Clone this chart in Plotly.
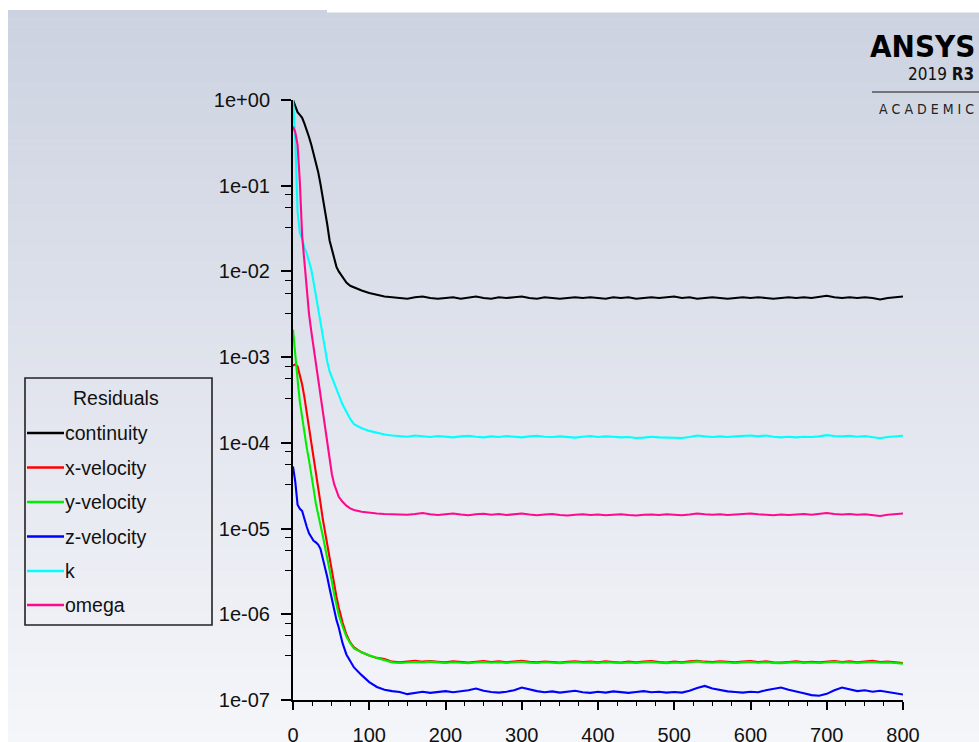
import plotly.graph_objects as go

# ---------------- data ----------------
iterations = [0, 3, 6, 9, 12, 15, 18, 21, 24, 27, 30, 33, 36, 39, 42, 45, 48, 51, 54, 57,
              60, 65, 70, 75, 80, 90, 100, 110, 120, 130, 140] + list(range(150, 801, 10))

continuity = [1.0, 0.85, 0.72, 0.67, 0.62, 0.53, 0.45, 0.37, 0.30, 0.24, 0.19, 0.145, 0.105, 0.075,
              0.052, 0.035, 0.023, 0.018, 0.0145, 0.0113, 0.0100, 0.0085, 0.0074, 0.0068, 0.0065,
              0.0060, 0.0056, 0.0053, 0.0051, 0.0050, 0.0049,
              0.0048, 0.0050, 0.0051, 0.0049, 0.0048, 0.0049, 0.0050, 0.0048, 0.0049, 0.0051,
              0.0049, 0.0048, 0.0050, 0.0049, 0.0050, 0.0051, 0.0049, 0.0048, 0.0050, 0.0049,
              0.0048, 0.0049, 0.0050, 0.0049, 0.0050, 0.0049, 0.0048, 0.0050, 0.0049, 0.0050,
              0.0048, 0.0049, 0.0050, 0.0049, 0.0050, 0.0051, 0.0049, 0.0050, 0.0048, 0.0049,
              0.0050, 0.0049, 0.0048, 0.0049, 0.0050, 0.0049, 0.0050, 0.0049, 0.0048, 0.0049,
              0.0050, 0.0049, 0.0050, 0.0049, 0.0050, 0.0052, 0.0050, 0.0049, 0.0050, 0.0049,
              0.0050, 0.0049, 0.0047, 0.0049, 0.0050, 0.0051]

x_velocity = [8.0e-4, 8.2e-4, 7.8e-4, 6.3e-4, 4.8e-4, 3.4e-4, 2.3e-4, 1.5e-4, 1.05e-4, 7.0e-5,
              4.6e-5, 3.0e-5, 2.0e-5, 1.3e-5, 9.0e-6, 6.2e-6, 4.4e-6, 3.1e-6, 2.2e-6, 1.6e-6,
              1.2e-6, 8.0e-7, 5.8e-7, 4.7e-7, 4.1e-7, 3.6e-7, 3.3e-7, 3.1e-7, 3.0e-7, 2.8e-7, 2.75e-7,
              2.78e-7, 2.86e-7, 2.80e-7, 2.84e-7, 2.79e-7, 2.75e-7, 2.82e-7, 2.77e-7, 2.74e-7, 2.80e-7,
              2.85e-7, 2.78e-7, 2.82e-7, 2.76e-7, 2.81e-7, 2.86e-7, 2.79e-7, 2.75e-7, 2.81e-7, 2.77e-7,
              2.74e-7, 2.79e-7, 2.83e-7, 2.77e-7, 2.80e-7, 2.76e-7, 2.82e-7, 2.78e-7, 2.74e-7, 2.80e-7,
              2.76e-7, 2.81e-7, 2.85e-7, 2.78e-7, 2.74e-7, 2.80e-7, 2.76e-7, 2.82e-7, 2.86e-7, 2.80e-7,
              2.77e-7, 2.83e-7, 2.78e-7, 2.75e-7, 2.80e-7, 2.84e-7, 2.77e-7, 2.82e-7, 2.76e-7, 2.73e-7,
              2.78e-7, 2.82e-7, 2.76e-7, 2.79e-7, 2.75e-7, 2.80e-7, 2.85e-7, 2.78e-7, 2.82e-7, 2.76e-7,
              2.79e-7, 2.87e-7, 2.78e-7, 2.81e-7, 2.75e-7, 2.70e-7]

y_velocity = [2.1e-3, 1.0e-3, 5.5e-4, 3.0e-4, 1.9e-4, 1.25e-4, 8.8e-5, 6.3e-5, 4.5e-5, 2.9e-5,
              1.95e-5, 1.4e-5, 1.1e-5, 8.3e-6, 6.2e-6, 4.6e-6, 3.4e-6, 2.4e-6, 1.7e-6, 1.25e-6,
              9.8e-7, 7.2e-7, 5.5e-7, 4.6e-7, 4.0e-7, 3.6e-7, 3.3e-7, 3.1e-7, 2.9e-7, 2.75e-7, 2.7e-7,
              2.72e-7, 2.78e-7, 2.74e-7, 2.80e-7, 2.75e-7, 2.70e-7, 2.76e-7, 2.72e-7, 2.68e-7, 2.74e-7,
              2.78e-7, 2.72e-7, 2.76e-7, 2.71e-7, 2.75e-7, 2.79e-7, 2.73e-7, 2.70e-7, 2.76e-7, 2.72e-7,
              2.69e-7, 2.74e-7, 2.77e-7, 2.72e-7, 2.75e-7, 2.71e-7, 2.76e-7, 2.73e-7, 2.70e-7, 2.74e-7,
              2.71e-7, 2.75e-7, 2.78e-7, 2.72e-7, 2.69e-7, 2.74e-7, 2.71e-7, 2.76e-7, 2.82e-7, 2.76e-7,
              2.72e-7, 2.77e-7, 2.73e-7, 2.70e-7, 2.75e-7, 2.78e-7, 2.72e-7, 2.76e-7, 2.71e-7, 2.68e-7,
              2.73e-7, 2.76e-7, 2.71e-7, 2.74e-7, 2.70e-7, 2.75e-7, 2.79e-7, 2.73e-7, 2.76e-7, 2.71e-7,
              2.74e-7, 2.78e-7, 2.72e-7, 2.75e-7, 2.70e-7, 2.66e-7]

z_velocity = [5.3e-5, 3.5e-5, 1.9e-5, 1.7e-5, 1.6e-5, 1.25e-5, 1.05e-5, 8.8e-6, 7.8e-6, 7.2e-6,
              6.9e-6, 6.5e-6, 5.8e-6, 4.6e-6, 3.6e-6, 2.7e-6, 2.0e-6, 1.5e-6, 1.1e-6, 8.6e-7,
              7.0e-7, 4.6e-7, 3.4e-7, 2.8e-7, 2.4e-7, 1.95e-7, 1.62e-7, 1.42e-7, 1.32e-7, 1.27e-7, 1.24e-7,
              1.17e-7, 1.22e-7, 1.25e-7, 1.21e-7, 1.24e-7, 1.27e-7, 1.23e-7, 1.26e-7, 1.30e-7, 1.36e-7,
              1.28e-7, 1.24e-7, 1.22e-7, 1.25e-7, 1.30e-7, 1.40e-7, 1.33e-7, 1.27e-7, 1.23e-7, 1.26e-7,
              1.22e-7, 1.24e-7, 1.28e-7, 1.23e-7, 1.21e-7, 1.25e-7, 1.22e-7, 1.26e-7, 1.24e-7, 1.21e-7,
              1.24e-7, 1.27e-7, 1.23e-7, 1.25e-7, 1.22e-7, 1.24e-7, 1.22e-7, 1.28e-7, 1.38e-7, 1.46e-7,
              1.36e-7, 1.30e-7, 1.26e-7, 1.24e-7, 1.22e-7, 1.25e-7, 1.23e-7, 1.30e-7, 1.36e-7, 1.40e-7,
              1.32e-7, 1.27e-7, 1.20e-7, 1.14e-7, 1.12e-7, 1.18e-7, 1.30e-7, 1.40e-7, 1.32e-7, 1.27e-7,
              1.30e-7, 1.25e-7, 1.28e-7, 1.24e-7, 1.22e-7, 1.16e-7]

k = [1.0, 0.35, 0.05, 0.028, 0.024, 0.019, 0.0163, 0.013, 0.0105, 0.0075, 0.0053, 0.0037, 0.0026,
     0.0018, 0.0012, 8.8e-4, 6.8e-4, 5.8e-4, 5.0e-4, 4.2e-4, 3.6e-4, 2.8e-4, 2.3e-4, 1.9e-4, 1.65e-4,
     1.48e-4, 1.38e-4, 1.30e-4, 1.25e-4, 1.22e-4, 1.20e-4,
     1.18e-4, 1.22e-4, 1.20e-4, 1.17e-4, 1.20e-4, 1.18e-4, 1.16e-4, 1.19e-4, 1.21e-4, 1.18e-4,
     1.16e-4, 1.19e-4, 1.17e-4, 1.20e-4, 1.18e-4, 1.16e-4, 1.19e-4, 1.21e-4, 1.18e-4, 1.17e-4,
     1.19e-4, 1.16e-4, 1.15e-4, 1.18e-4, 1.20e-4, 1.17e-4, 1.19e-4, 1.18e-4, 1.16e-4, 1.17e-4,
     1.14e-4, 1.15e-4, 1.18e-4, 1.16e-4, 1.15e-4, 1.16e-4, 1.14e-4, 1.17e-4, 1.22e-4, 1.19e-4,
     1.17e-4, 1.19e-4, 1.17e-4, 1.19e-4, 1.21e-4, 1.22e-4, 1.19e-4, 1.22e-4, 1.18e-4, 1.16e-4,
     1.18e-4, 1.16e-4, 1.18e-4, 1.17e-4, 1.19e-4, 1.23e-4, 1.20e-4, 1.19e-4, 1.21e-4, 1.18e-4,
     1.20e-4, 1.17e-4, 1.13e-4, 1.17e-4, 1.18e-4, 1.21e-4]

omega = [0.49, 0.42, 0.30, 0.11, 0.026, 0.012, 0.0055, 0.0032, 0.0020, 0.0013, 8.5e-4, 5.5e-4,
         3.5e-4, 2.2e-4, 1.4e-4, 9.0e-5, 6.2e-5, 4.3e-5, 3.3e-5, 2.7e-5, 2.35e-5, 2.05e-5, 1.85e-5,
         1.72e-5, 1.65e-5, 1.57e-5, 1.52e-5, 1.50e-5, 1.48e-5, 1.47e-5, 1.46e-5,
         1.45e-5, 1.48e-5, 1.52e-5, 1.47e-5, 1.44e-5, 1.47e-5, 1.50e-5, 1.46e-5, 1.43e-5, 1.47e-5,
         1.49e-5, 1.45e-5, 1.48e-5, 1.44e-5, 1.47e-5, 1.50e-5, 1.46e-5, 1.43e-5, 1.46e-5, 1.48e-5,
         1.44e-5, 1.42e-5, 1.45e-5, 1.47e-5, 1.44e-5, 1.46e-5, 1.43e-5, 1.45e-5, 1.47e-5, 1.44e-5,
         1.42e-5, 1.45e-5, 1.46e-5, 1.44e-5, 1.47e-5, 1.45e-5, 1.43e-5, 1.46e-5, 1.50e-5, 1.47e-5,
         1.45e-5, 1.47e-5, 1.44e-5, 1.46e-5, 1.48e-5, 1.50e-5, 1.47e-5, 1.45e-5, 1.43e-5, 1.46e-5,
         1.44e-5, 1.46e-5, 1.48e-5, 1.45e-5, 1.47e-5, 1.52e-5, 1.48e-5, 1.46e-5, 1.48e-5, 1.45e-5,
         1.47e-5, 1.44e-5, 1.40e-5, 1.45e-5, 1.47e-5, 1.50e-5]

series_names = ["continuity", "x-velocity", "y-velocity", "z-velocity", "k", "omega"]
series_values = [continuity, x_velocity, y_velocity, z_velocity, k, omega]
series_colors = ["#000000", "#ff0000", "#00ee00", "#0000ff", "#00ffff", "#ff0a8c"]

x_tick_vals = [0, 100, 200, 300, 400, 500, 600, 700, 800]
y_tick_vals = [1e-7, 1e-6, 1e-5, 1e-4, 1e-3, 1e-2, 1e-1, 1e0]
y_tick_text = ["1e-07", "1e-06", "1e-05", "1e-04", "1e-03", "1e-02", "1e-01", "1e+00"]
y_minor_factors = [0.785, 0.56, 0.327]

# ---------------- layout geometry (pixels) ----------------
W, H = 979, 742
L, R, T, B = 293, 903, 100, 700
PW, PH = R - L, B - T


def px(x):
    return (x - L) / PW


def py(y):
    return (B - y) / PH


FONT = "Liberation Sans, Arial, sans-serif"

fig = go.Figure()
for name, vals, col in zip(series_names, series_values, series_colors):
    fig.add_trace(go.Scatter(x=iterations, y=vals, mode="lines", name=name,
                             line=dict(color=col, width=2.1), showlegend=False))

shapes = []
# gradient background
top_c = (204, 210, 224)
bot_c = (245, 246, 250)
y0, y1 = 10, 742
nb = 90
for i in range(nb):
    a = y0 + (y1 - y0) * i / nb
    b = y0 + (y1 - y0) * (i + 1) / nb
    t = (i + 0.5) / nb
    c = tuple(round(top_c[j] + (bot_c[j] - top_c[j]) * t) for j in range(3))
    shapes.append(dict(type="rect", xref="paper", yref="paper", layer="below",
                       x0=px(8), x1=px(W + 2), y0=py(a), y1=py(b + 0.6),
                       fillcolor="rgb(%d,%d,%d)" % c, line=dict(width=0)))
shapes.append(dict(type="rect", xref="paper", yref="paper", layer="below",
                   x0=px(327), x1=px(W + 2), y0=py(9), y1=py(12.5),
                   fillcolor="white", line=dict(width=0)))

# legend box
shapes.append(dict(type="rect", xref="paper", yref="paper",
                   x0=px(25), x1=px(212), y0=py(378), y1=py(625),
                   line=dict(color="#222222", width=1.6), fillcolor="rgba(0,0,0,0)"))
row_y = [433, 467.5, 502, 536.5, 571, 605]
annotations = [dict(text="Residuals", xref="paper", yref="paper", x=px(116), y=py(398),
                    xanchor="center", yanchor="middle", showarrow=False,
                    font=dict(family=FONT, size=19.5, color="#111111"))]
for name, col, ry in zip(series_names, series_colors, row_y):
    shapes.append(dict(type="line", xref="paper", yref="paper",
                       x0=px(27), x1=px(64), y0=py(ry), y1=py(ry),
                       line=dict(color=col, width=2.5)))
    annotations.append(dict(text=name, xref="paper", yref="paper", x=px(63), y=py(ry),
                            xanchor="left", yanchor="middle", showarrow=False,
                            font=dict(family=FONT, size=19.5, color="#111111")))

# ANSYS logo
NARROW = "Liberation Sans Narrow, DejaVu Sans Condensed, Liberation Sans, sans-serif"
annotations.append(dict(text="<b>ANSYS</b>", xref="paper", yref="paper", x=px(977), y=py(46),
                        xanchor="right", yanchor="middle", showarrow=False,
                        font=dict(family=NARROW, size=31, color="#000000")))
annotations.append(dict(text="2019 <b>R3</b>", xref="paper", yref="paper", x=px(976), y=py(74),
                        xanchor="right", yanchor="middle", showarrow=False,
                        font=dict(family=NARROW, size=17, color="#111111")))
shapes.append(dict(type="line", xref="paper", yref="paper", x0=px(872), x1=px(979),
                   y0=py(92), y1=py(92), line=dict(color="#555555", width=1.5)))
annotations.append(dict(text="A C A D E M I C", xref="paper", yref="paper", x=px(976), y=py(109),
                        xanchor="right", yanchor="middle", showarrow=False,
                        font=dict(family=NARROW, size=14, color="#222222")))

y_minor = [10 ** d * f for d in range(-7, 0) for f in y_minor_factors]

fig.update_layout(
    width=W, height=H,
    margin=dict(l=L, r=W - R, t=T, b=H - B, pad=0),
    paper_bgcolor="white", plot_bgcolor="rgba(0,0,0,0)",
    template="none",
    font=dict(family=FONT, size=20, color="#111111"),
    shapes=shapes, annotations=annotations,
    showlegend=False,
    xaxis=dict(range=[0, 800], showgrid=False, zeroline=False, showline=True,
               linecolor="#000000", linewidth=2, ticks="outside", ticklen=8, tickwidth=1.6,
               tickcolor="#000000", tickmode="array", tickvals=x_tick_vals,
               tickfont=dict(family=FONT, size=20, color="#111111"), ticklabelstandoff=8,
               minor=dict(ticks="outside", dtick=25, tick0=0, ticklen=4, tickwidth=1.4,
                          tickcolor="#000000", showgrid=False),
               automargin=False, fixedrange=True),
    yaxis=dict(type="log", range=[-7, 0], showgrid=False, zeroline=False, showline=True,
               linecolor="#000000", linewidth=2, ticks="outside", ticklen=10, tickwidth=1.6,
               tickcolor="#000000", tickmode="array", tickvals=y_tick_vals, ticktext=y_tick_text,
               tickfont=dict(family=FONT, size=20, color="#111111"), ticklabelstandoff=7,
               minor=dict(ticks="outside", tickmode="array", tickvals=y_minor, ticklen=6,
                          tickwidth=1.4, tickcolor="#000000", showgrid=False),
               automargin=False, fixedrange=True),
)

fig.write_html("out.html", config={"displayModeBar": False},
               post_script="document.body.style.margin='0';document.body.style.padding='0';")
